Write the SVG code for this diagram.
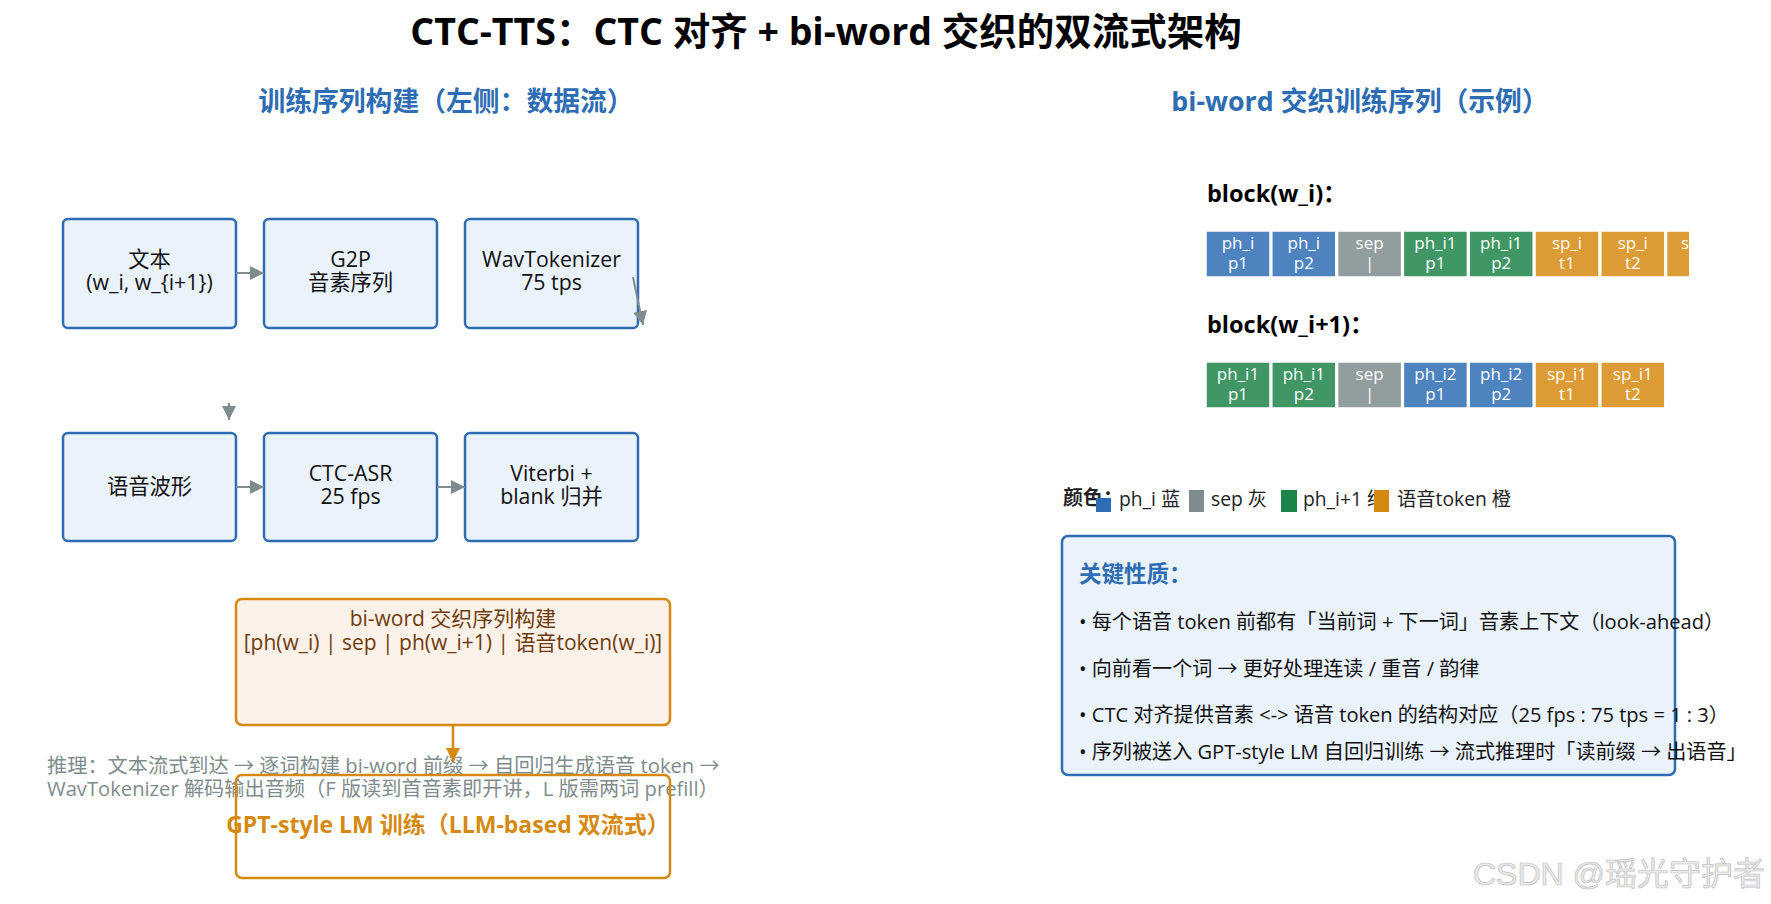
<svg xmlns="http://www.w3.org/2000/svg" width="1771" height="904" viewBox="0 0 1771 904">
<defs>
<style>
text{font-family:"Open Sans","Noto Sans CJK SC",sans-serif;}
.title{font-size:37.5px;font-weight:bold;fill:#000;text-anchor:middle;}
.sub{font-size:26.8px;font-weight:bold;fill:#2e6db4;text-anchor:middle;}
.box{fill:#eaf2fb;stroke:#2e6db4;stroke-width:2.5;}
.bt{font-size:21.3px;fill:#111;text-anchor:middle;}
.obox{fill:#fdf2e9;stroke:#d68910;stroke-width:2.5;}
.obox2{fill:none;stroke:#d68910;stroke-width:2.5;}
.ot{font-size:21px;fill:#6e3c0c;text-anchor:middle;}
.gpt{font-size:23px;font-weight:bold;fill:#d68910;text-anchor:middle;}
.gray{font-size:20.2px;fill:#7f8c8d;}
.conn{stroke:#7f8c8d;stroke-width:2;fill:none;}
.oconn{stroke:#d68910;stroke-width:2.5;fill:none;}
.blk{font-size:23.5px;font-weight:bold;fill:#000;}
.tk{stroke:#fff;stroke-width:1.5;}
.tt{font-size:17px;fill:#fff;text-anchor:middle;}
.blue{fill:#2e6db4;fill-opacity:.85;}
.sep{fill:#7f8c8d;fill-opacity:.85;}
.green{fill:#1e8449;fill-opacity:.85;}
.orange{fill:#d68910;fill-opacity:.85;}
.leg{font-size:19.3px;fill:#222;}
.kbox{fill:#eaf2fb;stroke:#2e6db4;stroke-width:2.5;}
.kt{font-size:22.5px;font-weight:bold;fill:#2e6db4;}
.bul{font-size:20.1px;fill:#111;}
.wm{font-family:"Liberation Sans","Noto Sans CJK SC",sans-serif;font-size:32px;fill:#ececec;stroke:#bdbdbd;stroke-width:0.7;text-anchor:end;}
</style>
<marker id="ag" markerUnits="userSpaceOnUse" markerWidth="16" markerHeight="14" refX="14" refY="7" orient="auto">
<path d="M0,0 L14,7 L0,14 z" fill="#7f8c8d"/>
</marker>
<marker id="ao" markerUnits="userSpaceOnUse" markerWidth="16" markerHeight="16" refX="14" refY="7" orient="auto">
<path d="M0,0 L14,7 L0,14 z" fill="#d68910"/>
</marker>
<clipPath id="clipRow"><rect x="1200" y="220" width="489" height="70"/></clipPath>
</defs>
<rect width="1771" height="904" fill="#fff"/>

<text class="title" x="826" y="45">CTC-TTS：CTC 对齐 + bi-word 交织的双流式架构</text>
<text class="sub" x="446" y="111">训练序列构建（左侧：数据流）</text>
<text class="sub" x="1360" y="111">bi-word 交织训练序列（示例）</text>

<g id="n_text"><rect class="box" x="63" y="219" width="173" height="109" rx="5"/><text class="bt" x="149.5" y="267">文本</text><text class="bt" x="149.5" y="290">(w_i, w_{i+1})</text></g>
<g id="n_g2p"><rect class="box" x="264" y="219" width="173" height="109" rx="5"/><text class="bt" x="350.5" y="267">G2P</text><text class="bt" x="350.5" y="290">音素序列</text></g>
<g id="n_wavtok"><rect class="box" x="465" y="219" width="173" height="109" rx="5"/><text class="bt" x="551.5" y="267">WavTokenizer</text><text class="bt" x="551.5" y="290">75 tps</text></g>
<g id="n_wave"><rect class="box" x="63" y="433" width="173" height="108" rx="5"/><text class="bt" x="149.5" y="494">语音波形</text></g>
<g id="n_ctc"><rect class="box" x="264" y="433" width="173" height="108" rx="5"/><text class="bt" x="350.5" y="481">CTC-ASR</text><text class="bt" x="350.5" y="504">25 fps</text></g>
<g id="n_viterbi"><rect class="box" x="465" y="433" width="173" height="108" rx="5"/><text class="bt" x="551.5" y="481">Viterbi +</text><text class="bt" x="551.5" y="504">blank 归并</text></g>

<g id="n_infer"><text class="gray" x="47" y="773">推理：文本流式到达 → 逐词构建 bi-word 前缀 → 自回归生成语音 token →</text><text class="gray" x="47" y="796">WavTokenizer 解码输出音频（F 版读到首音素即开讲，L 版需两词 prefill）</text></g>

<g id="n_biword"><rect class="obox" x="236" y="599" width="434" height="126" rx="6"/><text class="ot" x="453" y="626">bi-word 交织序列构建</text><text class="ot" x="453" y="650">[ph(w_i) | sep | ph(w_i+1) | 语音token(w_i)]</text></g>
<g id="n_gpt"><text class="gpt" x="448" y="833">GPT-style LM 训练（LLM-based 双流式）</text><rect class="obox2" x="236" y="775" width="434" height="103" rx="6"/></g>

<g id="connectors">
<line class="conn" x1="236" y1="273" x2="264" y2="273" marker-end="url(#ag)"/>
<line class="conn" x1="633" y1="277" x2="643" y2="325" marker-end="url(#ag)"/>
<line class="conn" x1="229" y1="403" x2="229" y2="420" marker-end="url(#ag)"/>
<line class="conn" x1="236" y1="487" x2="264" y2="487" marker-end="url(#ag)"/>
<line class="conn" x1="437" y1="487" x2="465" y2="487" marker-end="url(#ag)"/>
<line class="oconn" x1="453" y1="725" x2="453" y2="762" marker-end="url(#ao)"/>
</g>

<g id="blockA">
<text class="blk" x="1207" y="202">block(w_i)：</text>
<g clip-path="url(#clipRow)">
<rect class="tk blue" x="1206" y="231" width="64" height="46"/>
<rect class="tk blue" x="1271.8" y="231" width="64" height="46"/>
<rect class="tk sep" x="1337.6" y="231" width="64" height="46"/>
<rect class="tk green" x="1403.4" y="231" width="64" height="46"/>
<rect class="tk green" x="1469.2" y="231" width="64" height="46"/>
<rect class="tk orange" x="1535" y="231" width="64" height="46"/>
<rect class="tk orange" x="1600.8" y="231" width="64" height="46"/>
<rect class="tk orange" x="1666.6" y="231" width="64" height="46"/>
</g>
<text class="tt" x="1238" y="249">ph_i</text><text class="tt" x="1238" y="269">p1</text>
<text class="tt" x="1303.8" y="249">ph_i</text><text class="tt" x="1303.8" y="269">p2</text>
<text class="tt" x="1369.6" y="249">sep</text><text class="tt" x="1369.6" y="269">|</text>
<text class="tt" x="1435.4" y="249">ph_i1</text><text class="tt" x="1435.4" y="269">p1</text>
<text class="tt" x="1501.2" y="249">ph_i1</text><text class="tt" x="1501.2" y="269">p2</text>
<text class="tt" x="1567" y="249">sp_i</text><text class="tt" x="1567" y="269">t1</text>
<text class="tt" x="1632.8" y="249">sp_i</text><text class="tt" x="1632.8" y="269">t2</text>
<text class="tt" x="1681" y="249" style="text-anchor:start">s</text>
</g>

<g id="blockB">
<text class="blk" x="1207" y="333">block(w_i+1)：</text>
<rect class="tk green" x="1206" y="362" width="64" height="46"/>
<rect class="tk green" x="1271.8" y="362" width="64" height="46"/>
<rect class="tk sep" x="1337.6" y="362" width="64" height="46"/>
<rect class="tk blue" x="1403.4" y="362" width="64" height="46"/>
<rect class="tk blue" x="1469.2" y="362" width="64" height="46"/>
<rect class="tk orange" x="1535" y="362" width="64" height="46"/>
<rect class="tk orange" x="1600.8" y="362" width="64" height="46"/>
<text class="tt" x="1238" y="380">ph_i1</text><text class="tt" x="1238" y="400">p1</text>
<text class="tt" x="1303.8" y="380">ph_i1</text><text class="tt" x="1303.8" y="400">p2</text>
<text class="tt" x="1369.6" y="380">sep</text><text class="tt" x="1369.6" y="400">|</text>
<text class="tt" x="1435.4" y="380">ph_i2</text><text class="tt" x="1435.4" y="400">p1</text>
<text class="tt" x="1501.2" y="380">ph_i2</text><text class="tt" x="1501.2" y="400">p2</text>
<text class="tt" x="1567" y="380">sp_i1</text><text class="tt" x="1567" y="400">t1</text>
<text class="tt" x="1632.8" y="380">sp_i1</text><text class="tt" x="1632.8" y="400">t2</text>
</g>

<g id="legend">
<text class="leg" x="1063" y="505" style="font-weight:bold;font-size:20px;fill:#222">颜色：</text>
<rect x="1096" y="498" width="15" height="14" fill="#2e6db4"/>
<text class="leg" x="1119" y="506">ph_i 蓝</text>
<rect x="1189" y="490" width="15" height="22" fill="#7f8c8d"/>
<text class="leg" x="1211" y="506">sep 灰</text>
<rect x="1281" y="490" width="16" height="22" fill="#1e8449"/>
<text class="leg" x="1303" y="506">ph_i+1 绿</text>
<rect x="1374" y="490" width="15" height="22" fill="#d68910"/>
<text class="leg" x="1397" y="506">语音token 橙</text>
</g>

<g id="n_props">
<rect class="kbox" x="1062" y="536" width="613" height="239" rx="6"/>
<text class="kt" x="1079" y="582">关键性质：</text>
<text class="bul" x="1079" y="629">• 每个语音 token 前都有「当前词 + 下一词」音素上下文（look-ahead）</text>
<text class="bul" x="1079" y="676">• 向前看一个词 → 更好处理连读 / 重音 / 韵律</text>
<text class="bul" x="1079" y="722">• CTC 对齐提供音素 &lt;-&gt; 语音 token 的结构对应（25 fps : 75 tps = 1 : 3）</text>
<text class="bul" x="1079" y="759">• 序列被送入 GPT-style LM 自回归训练 → 流式推理时「读前缀 → 出语音」</text>
</g>

<text class="wm" x="1765" y="885">CSDN @瑶光守护者</text>
</svg>
